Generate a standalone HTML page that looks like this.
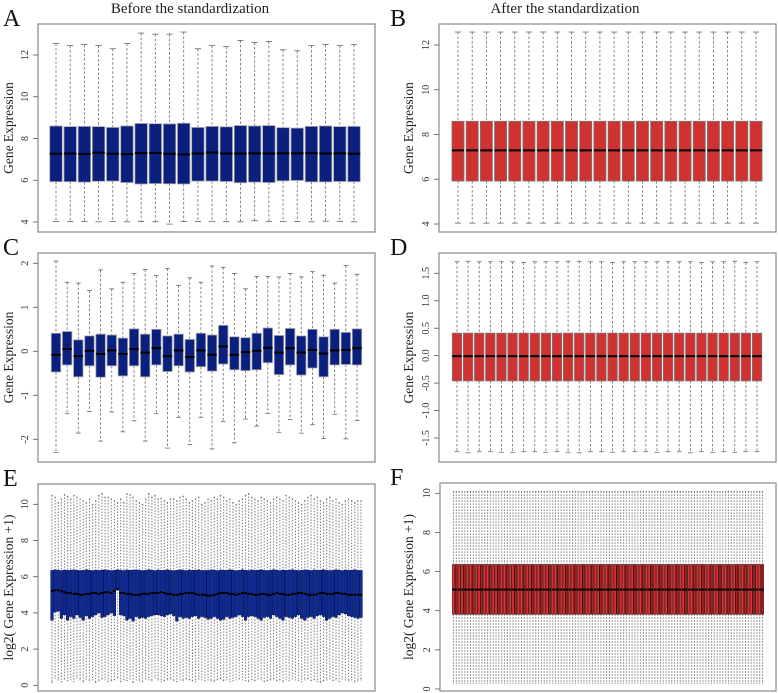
<!DOCTYPE html>
<html><head><meta charset="utf-8"><style>
html,body{margin:0;padding:0;background:#fff;}
svg{display:block;font-family:"Liberation Serif",serif;}
</style></head><body>
<svg id="fig" width="778" height="693" viewBox="0 0 778 693" xmlns="http://www.w3.org/2000/svg">
<text x="190" y="13" font-size="15" text-anchor="middle" fill="#222">Before the standardization</text>
<text x="565" y="13" font-size="15" text-anchor="middle" fill="#222">After the standardization</text>
</svg>
<script>
// Panel A (22 samples)
const aQ1=[5.93,5.93,5.91,5.95,5.96,5.89,5.82,5.84,5.83,5.82,5.96,5.96,5.94,5.88,5.91,5.89,5.97,5.99,5.92,5.92,5.94,5.93];
const aMed=[7.27,7.28,7.26,7.32,7.27,7.25,7.30,7.31,7.27,7.24,7.28,7.33,7.28,7.28,7.29,7.28,7.29,7.29,7.30,7.28,7.29,7.27];
const aQ3=[8.60,8.57,8.58,8.57,8.53,8.60,8.72,8.71,8.70,8.73,8.53,8.58,8.56,8.62,8.60,8.62,8.52,8.50,8.58,8.60,8.57,8.58];
const aLo=[4.02,4.02,4.02,4.01,4.02,4.01,4.02,4.01,3.90,4.02,4.02,4.02,4.02,4.01,4.06,4.03,4.02,4.02,4.01,4.04,4.03,4.01];
const aHi=[12.55,12.45,12.50,12.45,12.30,12.55,13.05,13.00,13.00,13.10,12.30,12.45,12.40,12.70,12.60,12.65,12.25,12.20,12.45,12.50,12.45,12.50];
const aTicks=[4,6,8,10,12];
// Panel B (22 samples)
const bQ1=[5.92,5.92,5.92,5.92,5.92,5.92,5.92,5.92,5.92,5.92,5.92,5.92,5.92,5.92,5.92,5.92,5.92,5.92,5.92,5.92,5.92,5.92];
const bMed=[7.29,7.29,7.29,7.29,7.29,7.29,7.29,7.29,7.29,7.29,7.29,7.29,7.29,7.29,7.29,7.29,7.29,7.29,7.29,7.29,7.29,7.29];
const bQ3=[8.59,8.59,8.59,8.59,8.59,8.59,8.59,8.59,8.59,8.59,8.59,8.59,8.59,8.59,8.59,8.59,8.59,8.59,8.59,8.59,8.59,8.59];
const bLo=[4.04,4.04,4.04,4.04,4.04,4.04,4.04,4.04,4.04,4.04,4.04,4.04,4.04,4.04,4.04,4.04,4.04,4.04,4.04,4.04,4.04,4.04];
const bHi=[12.58,12.58,12.58,12.58,12.58,12.58,12.58,12.58,12.58,12.58,12.58,12.58,12.58,12.58,12.58,12.58,12.58,12.58,12.58,12.58,12.58,12.58];
const bTicks=[4,6,8,10,12];
// Panel C (28 samples)
const cQ1=[-0.47,-0.31,-0.58,-0.33,-0.59,-0.33,-0.56,-0.33,-0.58,-0.31,-0.46,-0.33,-0.47,-0.35,-0.45,-0.29,-0.42,-0.44,-0.42,-0.26,-0.53,-0.31,-0.54,-0.38,-0.58,-0.31,-0.30,-0.31];
const cMed=[-0.08,0.05,-0.11,0.01,-0.06,0.02,-0.06,0.05,-0.03,0.07,-0.11,0.02,-0.13,0.02,-0.08,0.11,-0.08,-0.02,0.01,0.08,-0.03,0.07,-0.03,0.03,-0.05,0.02,0.03,0.07];
const cQ3=[0.41,0.45,0.26,0.35,0.39,0.37,0.30,0.51,0.39,0.50,0.35,0.39,0.27,0.41,0.37,0.59,0.33,0.31,0.41,0.53,0.36,0.52,0.35,0.50,0.33,0.50,0.43,0.51];
const cLo=[-2.30,-1.42,-1.86,-1.37,-2.04,-1.38,-1.83,-1.58,-2.04,-1.42,-2.20,-1.50,-2.12,-1.50,-2.22,-1.60,-2.08,-1.54,-1.70,-1.41,-1.84,-1.55,-1.86,-1.67,-1.98,-1.43,-1.99,-1.57];
const cHi=[2.05,1.57,1.55,1.38,1.85,1.42,1.57,1.77,1.86,1.72,1.88,1.50,1.67,1.57,1.94,1.91,1.77,1.42,1.70,1.70,1.69,1.77,1.69,1.81,1.73,1.55,1.95,1.75];
const cTicks=[-2,-1,0,1,2];
// Panel D (28 samples)
const dQ1=[-0.46,-0.46,-0.46,-0.46,-0.46,-0.46,-0.46,-0.46,-0.46,-0.46,-0.46,-0.46,-0.46,-0.46,-0.46,-0.46,-0.46,-0.46,-0.46,-0.46,-0.46,-0.46,-0.46,-0.46,-0.46,-0.46,-0.46,-0.46];
const dMed=[-0.01,-0.01,-0.01,-0.01,-0.01,-0.01,-0.01,-0.01,-0.01,-0.01,-0.01,-0.01,-0.01,-0.01,-0.01,-0.01,-0.01,-0.01,-0.01,-0.01,-0.01,-0.01,-0.01,-0.01,-0.01,-0.01,-0.01,-0.01];
const dQ3=[0.41,0.41,0.41,0.41,0.41,0.41,0.41,0.41,0.41,0.41,0.41,0.41,0.41,0.41,0.41,0.41,0.41,0.41,0.41,0.41,0.41,0.41,0.41,0.41,0.41,0.41,0.41,0.41];
const dLo=[-1.75,-1.77,-1.75,-1.75,-1.76,-1.76,-1.75,-1.75,-1.76,-1.75,-1.76,-1.77,-1.75,-1.75,-1.76,-1.75,-1.75,-1.75,-1.76,-1.75,-1.75,-1.77,-1.75,-1.76,-1.75,-1.76,-1.75,-1.75];
const dHi=[1.71,1.72,1.71,1.71,1.71,1.71,1.70,1.71,1.71,1.71,1.72,1.72,1.71,1.71,1.70,1.71,1.71,1.71,1.71,1.71,1.71,1.71,1.70,1.71,1.71,1.72,1.70,1.71];
const dTicks=[-1.5,-1.0,-0.5,0.0,0.5,1.0,1.5];
// Panel E (100 samples)
const eQ1=[3.60,4.05,4.10,3.70,3.90,3.60,3.80,3.70,3.90,3.75,
3.60,3.85,3.70,3.80,3.90,4.00,3.75,3.80,3.90,4.00,
3.85,5.30,3.90,3.85,3.60,3.70,3.55,3.80,3.70,3.75,
3.70,3.80,3.85,3.90,3.90,3.85,3.80,3.90,3.95,3.85,
3.55,3.80,3.70,3.75,3.70,3.80,3.85,3.70,3.80,3.75,
3.65,3.70,3.80,3.70,3.60,3.65,3.80,3.70,3.75,3.80,
3.90,3.80,3.60,3.80,3.85,3.80,3.70,3.60,3.75,3.80,
3.70,3.90,3.80,3.70,3.60,3.80,3.75,3.70,3.80,3.90,
3.70,3.60,3.75,3.80,3.70,3.85,3.90,3.80,3.60,3.70,
3.80,3.75,3.90,4.00,3.95,3.85,3.80,3.75,3.70,3.75];
const eMed=[5.20,5.25,5.25,5.20,5.15,5.10,5.10,5.05,5.05,5.00,
5.00,5.05,5.05,5.10,5.10,5.05,5.10,5.15,5.15,5.10,
5.20,5.30,5.10,5.10,5.05,5.05,5.00,5.00,5.00,5.05,
5.05,5.05,5.10,5.10,5.10,5.15,5.10,5.05,5.05,5.00,
5.00,5.05,5.05,5.10,5.10,5.10,5.05,5.00,5.00,5.00,
4.95,4.95,5.00,5.05,5.10,5.10,5.10,5.05,5.05,5.00,
5.05,5.10,5.10,5.05,5.05,5.00,5.00,5.05,5.05,5.00,
5.00,5.05,5.10,5.05,5.05,5.00,5.00,5.05,5.05,5.10,
5.10,5.05,5.00,5.00,5.00,5.05,5.10,5.10,5.05,5.05,
5.05,5.10,5.10,5.05,5.05,5.00,5.00,5.00,5.00,5.00];
const eQ3=[6.35,6.38,6.36,6.34,6.37,6.35,6.36,6.38,6.35,6.34,
6.35,6.38,6.36,6.34,6.37,6.35,6.36,6.38,6.35,6.34,
6.35,6.38,6.36,6.34,6.37,6.35,6.36,6.38,6.35,6.34,
6.35,6.38,6.36,6.34,6.37,6.35,6.36,6.38,6.35,6.34,
6.35,6.38,6.36,6.34,6.37,6.35,6.36,6.38,6.35,6.34,
6.35,6.38,6.36,6.34,6.37,6.35,6.36,6.38,6.35,6.34,
6.35,6.38,6.36,6.34,6.37,6.35,6.36,6.38,6.35,6.34,
6.35,6.38,6.36,6.34,6.37,6.35,6.36,6.38,6.35,6.34,
6.35,6.38,6.36,6.34,6.37,6.35,6.36,6.38,6.35,6.34,
6.35,6.38,6.36,6.34,6.37,6.35,6.36,6.38,6.35,6.34];
const eLo=[0.15,0.40,0.30,0.20,0.35,0.25,0.30,0.20,0.40,0.30,
0.20,0.35,0.25,0.30,0.15,0.25,0.35,0.30,0.20,0.25,
0.30,0.40,0.20,0.30,0.25,0.35,0.15,0.30,0.25,0.20,
0.35,0.30,0.25,0.40,0.30,0.20,0.25,0.30,0.35,0.25,
0.20,0.30,0.25,0.35,0.30,0.25,0.20,0.35,0.30,0.25,
0.30,0.25,0.20,0.30,0.35,0.25,0.30,0.20,0.25,0.30,
0.35,0.30,0.25,0.20,0.30,0.25,0.35,0.30,0.20,0.25,
0.30,0.35,0.25,0.30,0.20,0.30,0.25,0.35,0.30,0.25,
0.20,0.30,0.35,0.25,0.30,0.20,0.15,0.25,0.30,0.35,
0.25,0.30,0.20,0.35,0.30,0.25,0.30,0.20,0.25,0.30];
const eHi=[10.50,10.40,10.10,10.30,10.55,10.45,10.30,10.50,10.40,10.30,
10.20,10.10,10.30,10.00,10.20,10.50,10.60,10.40,10.40,10.30,
10.20,10.10,10.30,10.10,10.60,10.55,10.40,10.20,10.10,10.00,
10.30,10.60,10.40,10.50,10.30,10.35,10.20,10.10,10.30,10.30,
10.20,10.40,10.45,10.30,10.10,10.20,10.30,10.40,10.00,10.10,
10.30,10.20,10.40,10.30,10.50,10.40,10.20,10.30,10.10,10.00,
10.20,10.30,10.50,10.60,10.40,10.30,10.20,10.40,10.30,10.20,
10.10,10.30,10.40,10.30,10.20,10.50,10.40,10.30,10.20,10.10,
10.00,10.20,10.40,10.50,10.30,10.40,10.20,10.10,10.30,10.40,
10.20,10.30,10.10,10.00,10.20,10.30,10.20,10.10,10.20,10.20];
const eTicks=[0,2,4,6,8,10];
// Panel F (110 identical samples)
const fCount=110;
const fStats=[0.30,3.82,5.08,6.36,10.10]; // lo, q1, median, q3, hi
const fTicks=[0,2,4,6,8,10];

const svg=document.getElementById('fig');
const NS='http://www.w3.org/2000/svg';
function mk(tag,attrs,parent){const e=document.createElementNS(NS,tag);for(const k in attrs)e.setAttribute(k,attrs[k]);(parent||svg).appendChild(e);return e;}

function panel(cfg){
  const g=mk('g',{});
  
  
  const {fx,fy,fw,fh,v0,y0,v1,y1}=cfg;
  const ys=v=>y0+(v-v0)*(y1-y0)/(v1-v0);
  const n=cfg.q1.length;
  const xs=i=>n===1?cfg.xa:cfg.xa+i*(cfg.xb-cfg.xa)/(n-1);
  const pitch=n>1?(cfg.xb-cfg.xa)/(n-1):10;
  const bw=pitch*cfg.wex;
  const lt=mk('text',{x:cfg.lx,y:fy+2,'font-size':24,fill:'#111'},g);lt.textContent=cfg.letter;
  
  
  const wc=cfg.wcol||'#666', ww=cfg.ww||0.8;
  for(let i=0;i<n;i++){
    const bg=mk('g',{},g);
    
    
    const x=xs(i);
    const dash=cfg.dash||'2.5,2';
    mk('line',{x1:x,x2:x,y1:ys(cfg.hi[i]),y2:ys(cfg.q3[i]),stroke:wc,'stroke-width':ww,'stroke-dasharray':dash},bg);
    mk('line',{x1:x,x2:x,y1:ys(cfg.q1[i]),y2:ys(cfg.lo[i]),stroke:wc,'stroke-width':ww,'stroke-dasharray':dash},bg);
    mk('line',{x1:x-bw/4,x2:x+bw/4,y1:ys(cfg.hi[i]),y2:ys(cfg.hi[i]),stroke:'#666','stroke-width':0.8},bg);
    mk('line',{x1:x-bw/4,x2:x+bw/4,y1:ys(cfg.lo[i]),y2:ys(cfg.lo[i]),stroke:'#666','stroke-width':0.8},bg);
    const fill=(cfg.fills&&cfg.fills[i%cfg.fills.length])||cfg.fill;
    mk('rect',{x:x-bw/2,y:ys(cfg.q3[i]),width:bw,height:ys(cfg.q1[i])-ys(cfg.q3[i]),fill:fill,stroke:cfg.stroke,'stroke-width':cfg.sw||0.8},bg);
    mk('line',{x1:x-bw/2,x2:x+bw/2,y1:ys(cfg.med[i]),y2:ys(cfg.med[i]),stroke:'#000','stroke-width':2},bg);
  }
  const fr=mk('rect',{x:fx,y:fy,width:fw,height:fh,fill:'none',stroke:'#888','stroke-width':1.2},g);
  
  
  const ax=mk('g',{},g);
  
  
  cfg.ticks.forEach(t=>{
    const y=ys(t);
    if(y<fy-1||y>fy+fh+6)return;
    mk('line',{x1:fx-5,x2:fx,y1:y,y2:y,stroke:'#555','stroke-width':0.8},ax);
    const tx=mk('text',{x:fx-10,y:y,'font-size':10,fill:'#333','text-anchor':'middle',transform:`rotate(-90 ${fx-10} ${y})`},ax);
    tx.textContent=cfg.tickFmt?cfg.tickFmt(t):String(t);
  });
  const cy=fy+fh/2;
  const tt=mk('text',{x:cfg.tx,y:cy,'font-size':13.5,fill:'#222','text-anchor':'middle',transform:`rotate(-90 ${cfg.tx} ${cy})`},g);
  tt.textContent=cfg.title;
  
  
}
const navy='#0b1f7e', red='#d03232';
panel({letter:'A',lx:3,fx:38,fy:24,fw:337,fh:208,v0:12,y0:55,v1:4,y1:222,xa:56,xb:354,wex:0.88,q1:aQ1,med:aMed,q3:aQ3,lo:aLo,hi:aHi,fill:navy,stroke:'#aaa',ticks:aTicks,title:'Gene Expression',tx:13});
panel({letter:'B',lx:390,fx:439,fy:24,fw:337,fh:208,v0:12,y0:45,v1:4,y1:224,xa:458,xb:756,wex:0.85,q1:bQ1,med:bMed,q3:bQ3,lo:bLo,hi:bHi,fill:red,stroke:'#777',ticks:bTicks,title:'Gene Expression',tx:413});
panel({letter:'C',lx:3,fx:38,fy:253,fw:337,fh:209,v0:2,y0:263.3,v1:0,y1:351.3,xa:56,xb:357,wex:0.85,q1:cQ1,med:cMed,q3:cQ3,lo:cLo,hi:cHi,fill:navy,stroke:'#aaa',ticks:cTicks,title:'Gene Expression',tx:13});
panel({letter:'D',lx:390,fx:439,fy:253,fw:337,fh:209,v0:1.5,y0:273.3,v1:-1.5,y1:438,xa:457,xb:757,wex:0.85,q1:dQ1,med:dMed,q3:dQ3,lo:dLo,hi:dHi,fill:red,stroke:'#777',ticks:dTicks,tickFmt:t=>t.toFixed(1),title:'Gene Expression',tx:413});
panel({letter:'E',lx:3,fx:38,fy:484,fw:337,fh:207,v0:10,y0:504.3,v1:0,y1:685.3,xa:52,xb:361,wex:0.85,q1:eQ1,med:eMed,q3:eQ3,lo:eLo,hi:eHi,fill:'#0c2a9a',stroke:'#06104a',sw:0.5,dash:'1.5,1.5',wcol:'#888',ww:1.1,ticks:eTicks,title:'log2( Gene Expression +1)',tx:13});
const fLo=Array(fCount).fill(fStats[0]),fQ1=Array(fCount).fill(fStats[1]),fMed=Array(fCount).fill(fStats[2]),fQ3=Array(fCount).fill(fStats[3]),fHi=Array(fCount).fill(fStats[4]);
panel({letter:'F',lx:390,fx:440,fy:483,fw:336,fh:208,v0:10,y0:493.3,v1:0,y1:689,xa:453.5,xb:762.5,wex:0.8,q1:fQ1,med:fMed,q3:fQ3,lo:fLo,hi:fHi,fills:['#e23434','#a82020','#d83030'],stroke:'#2a0505',sw:0.5,dash:'1.5,1.5',wcol:'#888',ww:1.1,ticks:fTicks,title:'log2( Gene Expression +1)',tx:413});
</script>
</body></html>
